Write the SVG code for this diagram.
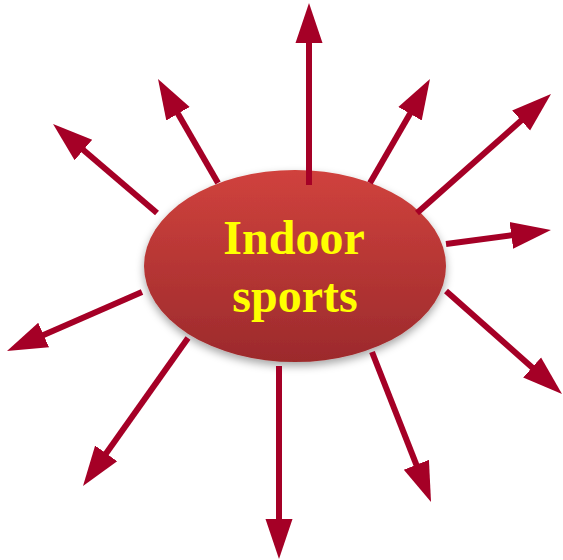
<svg xmlns="http://www.w3.org/2000/svg" width="563" height="560" viewBox="0 0 563 560">
<style>
.arrow{stroke:#a50026;stroke-width:6;fill:none;marker-end:url(#head)}
.label{font-family:"Liberation Serif","Times New Roman",serif;font-weight:bold;font-size:48px;fill:#ffff00;text-anchor:middle}
</style>
<defs>
<linearGradient id="g" x1="0" y1="0" x2="0" y2="1">
<stop offset="0" stop-color="#d0423d"/>
<stop offset="1" stop-color="#9c2a2c"/>
</linearGradient>
<filter id="sh" x="-20%" y="-20%" width="140%" height="150%">
<feDropShadow dx="0" dy="4" stdDeviation="4" flood-color="#000" flood-opacity="0.35"/>
</filter>
<marker id="head" markerUnits="userSpaceOnUse" markerWidth="42" markerHeight="30" viewBox="0 -15 42 30" refX="2" refY="0" orient="auto">
<path d="M0,-13.5 L40,0 L0,13.5 Z" fill="#a50026"/>
</marker>
</defs>
<g id="indoor-sports">
<ellipse cx="295" cy="266" rx="151" ry="96" fill="url(#g)" filter="url(#sh)"/>
<text class="label" x="294" y="254">Indoor</text>
<text class="label" x="295" y="312">sports</text>
</g>
<g id="connectors">
<line class="arrow" x1="309" y1="185" x2="309" y2="41"/>
<line class="arrow" x1="218" y1="183" x2="177" y2="111.9"/>
<line class="arrow" x1="157" y1="213" x2="81.9" y2="148.7"/>
<line class="arrow" x1="370" y1="183" x2="411" y2="111.9"/>
<line class="arrow" x1="417" y1="213" x2="522.6" y2="119.2"/>
<line class="arrow" x1="446" y1="244" x2="513.3" y2="235"/>
<line class="arrow" x1="446" y1="291" x2="533.6" y2="368.8"/>
<line class="arrow" x1="372" y1="352" x2="417.1" y2="466.6"/>
<line class="arrow" x1="279" y1="366" x2="279" y2="521"/>
<line class="arrow" x1="188" y1="338" x2="105" y2="455"/>
<line class="arrow" x1="142" y1="292" x2="41.8" y2="335.8"/>
</g>
</svg>
